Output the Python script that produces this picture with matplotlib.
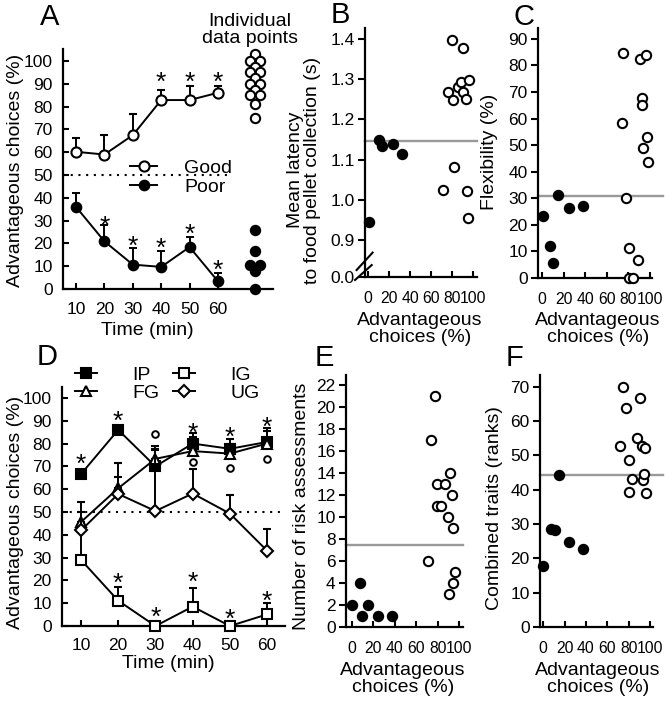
import numpy as np
import matplotlib
matplotlib.use('Agg')
import matplotlib.pyplot as plt
from matplotlib.lines import Line2D
from matplotlib.transforms import offset_copy

plt.rcParams['font.family'] = ['Liberation Sans', 'DejaVu Sans']

########## DATA ##########
time = [10, 20, 30, 40, 50, 60]

# panel A
good_mean = [60.2, 59, 67.5, 82.9, 82.9, 86.1]
good_err = [6.1, 8.5, 9.2, 4.4, 6.1, 2.9]
poor_mean = [36, 20.9, 10.7, 9.7, 18.4, 3.4]
poor_err = [6.2, 7.1, 7.3, 6.8, 4.4, 3.6]
good_star_t = [40, 50, 60]
good_star_y = [94, 94, 94]
poor_star_t = [20, 30, 40, 50, 60]
poor_star_y = [31, 22, 21.4, 27.2, 11.8]
ind_x = 73
ind_good = [103, 100, 100, 97.5, 95, 95, 92.5, 90, 90, 87.5, 85, 85, 81, 75]
ind_good_dx = [0, -1.8, 1.8, 0, -1.8, 1.8, 0, -1.8, 1.8, 0, -1.8, 1.8, 0, 0]
ind_poor = [26, 16.5, 10.5, 10.5, 8, 0]
ind_poor_dx = [0, 0, -1.8, 1.8, 0, 0]

# panel B
b_poor_x = [1, 10.5, 13, 24, 32]
b_poor_y = [0.944, 1.148, 1.134, 1.14, 1.115]
b_good_x = [80, 90, 76, 81, 86, 88.5, 90.5, 93, 96, 82, 71, 94, 95]
b_good_y = [1.398, 1.377, 1.269, 1.248, 1.282, 1.294, 1.269, 1.252, 1.298, 1.082, 1.025, 1.023, 0.955]
b_line = 1.146

# panel C
c_poor_x = [1, 7, 10, 15, 25, 38]
c_poor_y = [23.2, 11.9, 5.6, 31.4, 26.3, 27.2]
c_good_x = [75, 74, 78, 81, 81, 84, 89, 91, 96, 93, 93, 97, 94, 98]
c_good_y = [84.7, 58.3, 30.1, 11.3, 0, 0, 6.9, 82.4, 84, 67.8, 65, 53, 49, 43.5]
c_line = 30.7

# panel D
ip_mean = [66.6, 86, 70, 80, 77.7, 80.7]
ip_err = [0, 0, 7.4, 4.8, 4.4, 6.3]
fg_mean = [45.6, 60.4, 73.3, 76.7, 75.6, 80]
fg_err = [8.8, 11.1, 5.6, 6.3, 4.4, 5.5]
ig_mean = [29, 11.1, 0, 8.5, 0, 5.1]
ig_err = [13, 5.9, 0, 8, 0, 4.9]
ug_mean = [41.9, 57.9, 50.4, 58.1, 49.3, 33]
ug_err = [8, 7.4, 26.6, 10.7, 8.1, 9.6]
ip_star_t = [10, 20, 40, 50, 60]
ip_star_y = [74.4, 93, 88, 86.3, 90.5]
ig_star_t = [20, 30, 40, 50, 60]
ig_star_y = [22, 7, 22.4, 6.3, 14.3]
o_sig_t = [30, 40, 50, 60]
o_sig_y = [84, 71.8, 69.3, 73.3]

# panel E
e_poor_x = [0, 7.5, 9, 15, 24.6, 37]
e_poor_y = [2, 4, 1, 2, 1, 1]
e_good_x = [77.6, 73.8, 71.3, 79, 79, 83, 87, 91.6, 93, 90, 94.7, 96.3, 94, 91]
e_good_y = [21, 17, 6, 13, 11, 11, 13, 14, 12, 10, 9, 5, 4, 3]
e_line = 7.44

# panel F
f_poor_x = [0, 7, 11, 15, 24.4, 37.5]
f_poor_y = [17.8, 28.5, 28.3, 44.3, 24.9, 22.8]
f_good_x = [74.4, 77.5, 90.6, 71.9, 87.5, 80.6, 92.2, 95.3, 82.9, 93.2, 94.4, 80.6, 96.3]
f_good_y = [69.8, 63.7, 66.6, 52.6, 55, 48.5, 52.6, 52.1, 43.1, 42.9, 44.6, 39.2, 39]
f_line = 44.3

pct_ticks = [0, 20, 40, 60, 80, 100]

########## FIGURE ##########
W, H = 672, 712
fig = plt.figure(figsize=(W / 100, H / 100), dpi=100)


def panel(x0, x1, y0, y1):
    ax = fig.add_axes([x0 / W, 1 - y1 / H, (x1 - x0) / W, (y1 - y0) / H])
    ax.spines[['top', 'right']].set_visible(False)
    ax.spines[['left', 'bottom']].set_linewidth(1.6)
    ax.patch.set_visible(False)
    return ax


def ftext(x, y, s, **kw):
    fig.text(x / W, 1 - y / H, s, ha='center', va='center', **kw)


def stars(ax, xs, ys):
    tr = offset_copy(ax.transData, fig=fig, y=-11, units='points')
    for x, y in zip(xs, ys):
        ax.text(x, y, '*', transform=tr, ha='center', va='baseline', fontsize=19)


def scatter_panel(ax, px, py, gx, gy, line, xmax_frac):
    ax.plot(px, py, 'o', color='k', ms=7.2, clip_on=False, zorder=4)
    ax.plot(gx, gy, 'o', mfc='white', mec='k', mew=1.5, ms=6.7, clip_on=False, zorder=4)
    ax.axhline(line, xmin=0, xmax=xmax_frac, color='#999999', lw=1.7, clip_on=False, zorder=2)
    ax.set_xticks(pct_ticks)
    ax.tick_params(axis='x', direction='in', length=4, width=1.5, labelsize=11.3, pad=10)
    ax.tick_params(axis='y', direction='out', length=5, width=1.5, labelsize=12.5, pad=2.5)


ebkw = dict(color='k', lw=1.4, elinewidth=1.4, capsize=2.6, capthick=1.4, clip_on=False)

##### A #####
axA = panel(63, 273, 49, 289)
axA.errorbar(time, good_mean, yerr=[np.zeros(6), good_err], fmt='-o', mfc='white', mec='k',
             mew=1.5, ms=7.3, zorder=4, **ebkw)
axA.errorbar(time, poor_mean, yerr=[np.zeros(6), poor_err], fmt='-o', mfc='k', mec='k',
             ms=7.4, zorder=4, **ebkw)
axA.plot(ind_x + np.array(ind_good_dx), ind_good, 'o', mfc='white', mec='k', mew=1.5, ms=6.7,
         clip_on=False, zorder=5)
axA.plot(ind_x + np.array(ind_poor_dx), ind_poor, 'o', color='k', ms=7.2, clip_on=False, zorder=5)
axA.axhline(50, xmin=0, xmax=0.795, color='k', lw=1.5, dashes=(1, 2.7), zorder=1)
stars(axA, good_star_t, good_star_y)
stars(axA, poor_star_t, poor_star_y)
axA.set_xlim(5.4, 79.4)
axA.set_ylim(0, 105.3)
axA.set_xticks(time)
axA.set_yticks(range(0, 101, 10))
axA.tick_params(axis='both', direction='in', length=4, width=1.5, labelsize=12.5)
axA.tick_params(axis='x', pad=9)
axA.tick_params(axis='y', pad=7.5)
hA = [Line2D([], [], color='k', lw=1.4, marker='o', mfc='white', mec='k', mew=1.5, ms=7.3),
      Line2D([], [], color='k', lw=1.4, marker='o', mfc='k', ms=7.4)]
axA.legend(hA, ['Good', 'Poor'], loc='center left', bbox_to_anchor=(130 / W, 1 - 177.5 / H),
           bbox_transform=fig.transFigure, frameon=False, fontsize=14, handlelength=1.4,
           handletextpad=1.4, labelspacing=0.1, borderpad=0, borderaxespad=0)
ftext(16, 170, 'Advantageous choices (%)', rotation=90, fontsize=14)
ftext(147, 330, 'Time (min)', fontsize=14)
ftext(250, 30, 'Individual\ndata points', fontsize=14, linespacing=1.0)
ftext(50, 17, 'A', fontsize=21)

##### B #####
axB = panel(365, 477, 28, 277)
scatter_panel(axB, b_poor_x, b_poor_y, b_good_x, b_good_y, b_line, 1.0)
axB.set_xlim(-2.9, 103.8)
axB.set_ylim(0.8075, 1.428)
axB.set_yticks([0.8075, 0.9, 1.0, 1.1, 1.2, 1.3, 1.4])
axB.set_yticklabels(['0.0', '0.9', '1.0', '1.1', '1.2', '1.3', '1.4'])
# axis break marks
for seg in [((-0.075, 0.068), (0.028, 0.098)), ((-0.089, 0.060), (-0.012, 0.048))]:
    axB.plot(seg[0], seg[1], color='k', lw=1.5, transform=axB.transAxes, clip_on=False)
ftext(304, 170, 'Mean latency\nto food pellet collection (s)', rotation=90, fontsize=14,
      linespacing=1.05)
ftext(420, 329, 'Advantageous\nchoices (%)', fontsize=14, linespacing=1.05)
ftext(340, 15, 'B', fontsize=21)

##### C #####
axC = panel(538, 652, 28, 278)
scatter_panel(axC, c_poor_x, c_poor_y, c_good_x, c_good_y, c_line, (663 - 538) / (652 - 538))
axC.set_xlim(-3.7, 101.9)
axC.set_ylim(0, 94.1)
axC.set_yticks(range(0, 91, 10))
ftext(490, 152, 'Flexibility (%)', rotation=90, fontsize=14)
ftext(598, 329, 'Advantageous\nchoices (%)', fontsize=14, linespacing=1.05)
ftext(524, 17, 'C', fontsize=21)

##### D #####
axD = panel(62, 285, 387, 626)
series = [(ip_mean, ip_err, 's', 'k', 6.8), (fg_mean, fg_err, '^', 'white', 7.8),
          (ig_mean, ig_err, 's', 'white', 6.8), (ug_mean, ug_err, 'D', 'white', 6.3)]
for z, (m, e, mk, fc, ms) in enumerate(series):
    axD.errorbar(time, m, yerr=[np.zeros(6), e], fmt='-' + mk, mfc=fc, mec='k', mew=1.5, ms=ms,
                 zorder=4 + z * 0.2, **ebkw)
axD.axhline(50, color='k', lw=1.5, dashes=(1, 2.7), zorder=1)
stars(axD, ip_star_t, ip_star_y)
stars(axD, ig_star_t, ig_star_y)
axD.plot(o_sig_t, o_sig_y, 'o', mfc='white', mec='k', mew=1.4, ms=4.8, ls='none')
axD.set_xlim(4.9, 64.8)
axD.set_ylim(0, 104.8)
axD.set_xticks(time)
axD.set_yticks(range(0, 101, 10))
axD.tick_params(axis='both', direction='in', length=4, width=1.5, labelsize=12.5)
axD.tick_params(axis='x', pad=9)
axD.tick_params(axis='y', pad=7.5)
hD = [Line2D([], [], color='k', lw=1.4, marker=mk, mfc=fc, mec='k', mew=1.5, ms=ms)
      for (_, _, mk, fc, ms) in series]
axD.legend(hD, ['IP', 'FG', 'IG', 'UG'], ncol=2, loc='center left',
           bbox_to_anchor=(75 / W, 1 - 384 / H), bbox_transform=fig.transFigure, frameon=False,
           fontsize=14, handlelength=1.15, handletextpad=1.8, columnspacing=0.7,
           labelspacing=0.05, borderpad=0, borderaxespad=0)
ftext(16, 512, 'Advantageous choices (%)', rotation=90, fontsize=14)
ftext(168, 663, 'Time (min)', fontsize=14)
ftext(47, 357, 'D', fontsize=21)

##### E #####
axE = panel(346, 463, 375, 627)
scatter_panel(axE, e_poor_x, e_poor_y, e_good_x, e_good_y, e_line, 1.0)
axE.set_xlim(-5.6, 103.7)
axE.set_ylim(0, 22.9)
axE.set_yticks(range(0, 23, 2))
ftext(302, 506, 'Number of risk assessments', rotation=90, fontsize=14)
ftext(403, 679, 'Advantageous\nchoices (%)', fontsize=14, linespacing=1.05)
ftext(324, 358, 'E', fontsize=21)

##### F #####
axF = panel(540, 653, 375, 627)
scatter_panel(axF, f_poor_x, f_poor_y, f_good_x, f_good_y, f_line, (663 - 540) / (653 - 540))
axF.set_xlim(-3.1, 102.8)
axF.set_ylim(0, 73.4)
axF.set_yticks(range(0, 71, 10))
ftext(494, 508, 'Combined traits (ranks)', rotation=90, fontsize=14)
ftext(598, 679, 'Advantageous\nchoices (%)', fontsize=14, linespacing=1.05)
ftext(515, 358, 'F', fontsize=21)

fig.savefig('out.png', dpi=100)
